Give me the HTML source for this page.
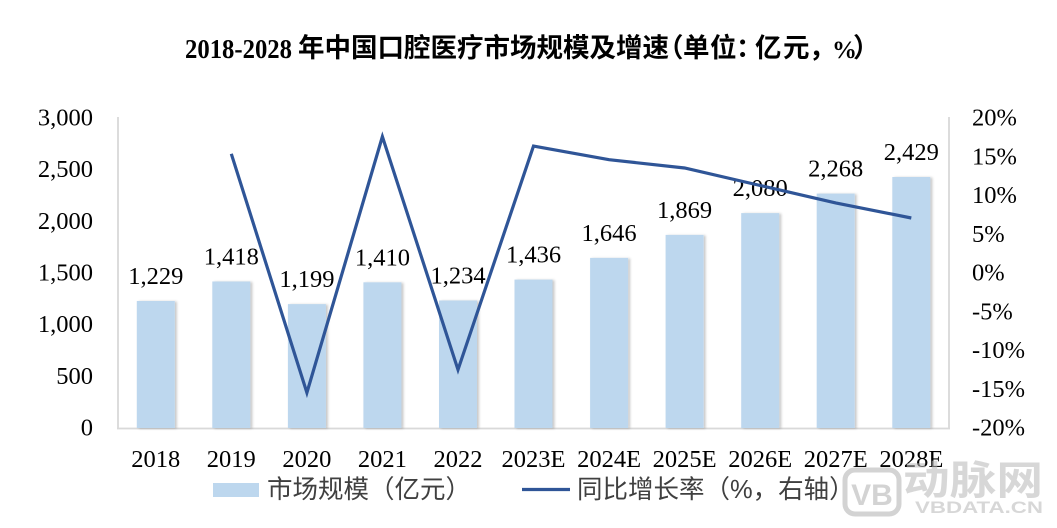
<!DOCTYPE html>
<html>
<head>
<meta charset="utf-8">
<style>
html,body{margin:0;padding:0;background:#fff;}
svg{display:block;}
.t{font-family:"Liberation Serif","Noto Serif CJK SC",serif;font-size:24.5px;fill:#000;}
.ttl{font-family:"Liberation Sans","Noto Sans CJK SC",sans-serif;font-size:26.5px;font-weight:bold;fill:#000;}
.lg{font-family:"Liberation Sans","Noto Sans CJK SC",sans-serif;font-size:25.5px;fill:#404040;}
</style>
</head>
<body>
<svg width="1057" height="528" viewBox="0 0 1057 528" xmlns="http://www.w3.org/2000/svg">
<defs>
<filter id="sh" x="-20%" y="-5%" width="150%" height="110%">
<feDropShadow dx="2" dy="0.5" stdDeviation="1.3" flood-color="#000" flood-opacity="0.22"/>
</filter>
</defs>
<rect width="1057" height="528" fill="#fff"/>

<!-- Title -->
<text x="185" y="58" style="font-family:'Liberation Serif',serif;font-size:27px;font-weight:bold;" textLength="107" lengthAdjust="spacingAndGlyphs">2018-2028</text>
<text class="ttl" x="298" y="57" textLength="371" lengthAdjust="spacing">年中国口腔医疗市场规模及增速</text>
<text class="ttl" x="657" y="57">（</text>
<text class="ttl" x="683" y="57">单</text>
<text class="ttl" x="710" y="57">位</text>
<text class="ttl" x="736" y="57">：</text>
<text class="ttl" x="755" y="57">亿</text>
<text class="ttl" x="783" y="57">元</text>
<text class="ttl" x="809" y="57">，</text>
<text x="832" y="58" style="font-family:'Liberation Serif',serif;font-size:25px;font-weight:bold;">%</text>
<text class="ttl" x="853" y="57">）</text>

<!-- Axes -->
<line x1="118" y1="117" x2="118" y2="428.5" stroke="#D9D9D9" stroke-width="1.8"/>
<line x1="949" y1="117" x2="949" y2="428.5" stroke="#D9D9D9" stroke-width="1.8"/>
<line x1="117" y1="428.5" x2="950" y2="428.5" stroke="#D9D9D9" stroke-width="1.8"/>

<!-- Left ticks -->
<g class="t" text-anchor="end">
<text x="93" y="125.5">3,000</text>
<text x="93" y="177.2">2,500</text>
<text x="93" y="228.8">2,000</text>
<text x="93" y="280.5">1,500</text>
<text x="93" y="332.2">1,000</text>
<text x="93" y="383.8">500</text>
<text x="93" y="435.5">0</text>
</g>
<!-- Right ticks -->
<g class="t">
<text x="972" y="125.5">20%</text>
<text x="972" y="164.3">15%</text>
<text x="972" y="203">10%</text>
<text x="972" y="241.8">5%</text>
<text x="972" y="280.5">0%</text>
<text x="972" y="319.3">-5%</text>
<text x="972" y="358">-10%</text>
<text x="972" y="396.8">-15%</text>
<text x="972" y="435.5">-20%</text>
</g>

<!-- Bars -->
<g fill="#BDD7EE" filter="url(#sh)">
<rect x="136.8" y="301.0" width="38" height="127.0"/>
<rect x="212.3" y="281.5" width="38" height="146.5"/>
<rect x="287.9" y="304.1" width="38" height="123.9"/>
<rect x="363.4" y="282.3" width="38" height="145.7"/>
<rect x="439.0" y="300.5" width="38" height="127.5"/>
<rect x="514.5" y="279.6" width="38" height="148.4"/>
<rect x="590.1" y="257.9" width="38" height="170.1"/>
<rect x="665.6" y="234.9" width="38" height="193.1"/>
<rect x="741.2" y="213.1" width="38" height="214.9"/>
<rect x="816.7" y="193.6" width="38" height="234.4"/>
<rect x="892.3" y="177.0" width="38" height="251.0"/>
</g>

<!-- Data labels -->
<g class="t" text-anchor="middle">
<text x="155.8" y="284">1,229</text>
<text x="231.3" y="264.5">1,418</text>
<text x="306.9" y="287">1,199</text>
<text x="382.4" y="265.3">1,410</text>
<text x="458.0" y="283.5">1,234</text>
<text x="533.5" y="262.6">1,436</text>
<text x="609.1" y="240.9">1,646</text>
<text x="684.6" y="217.9">1,869</text>
<text x="760.2" y="196.1">2,080</text>
<text x="835.7" y="176.6">2,268</text>
<text x="911.3" y="160">2,429</text>
</g>

<!-- Growth line -->
<polyline fill="none" stroke="#2F5597" stroke-width="3.2" stroke-linejoin="miter" stroke-miterlimit="10"
points="231.3,153.8 306.9,392.7 382.4,136.6 458.0,369.7 533.5,146.1 609.1,159.7 684.6,168.0 760.2,185.5 835.7,202.9 911.3,218.0"/>

<!-- X labels -->
<g class="t" text-anchor="middle">
<text x="155.8" y="467">2018</text>
<text x="231.3" y="467">2019</text>
<text x="306.9" y="467">2020</text>
<text x="382.4" y="467">2021</text>
<text x="458.0" y="467">2022</text>
<text x="533.5" y="467">2023E</text>
<text x="609.1" y="467">2024E</text>
<text x="684.6" y="467">2025E</text>
<text x="760.2" y="467">2026E</text>
<text x="835.7" y="467">2027E</text>
<text x="911.3" y="467">2028E</text>
</g>

<!-- Legend -->
<rect x="213" y="483" width="46" height="14" fill="#BDD7EE"/>
<text class="lg" x="267" y="498">市场规模（亿元）</text>
<line x1="522" y1="489.5" x2="570" y2="489.5" stroke="#2F5597" stroke-width="3.2"/>
<text class="lg" x="577" y="498">同比增长率（%，右轴）</text>

<!-- Watermark -->
<g opacity="0.55">
<rect x="845" y="470" width="54" height="44" rx="10" ry="10" fill="none" stroke="#B0B0B0" stroke-width="5"/>
<text x="872" y="505" text-anchor="middle" style="font-family:'Liberation Sans',sans-serif;font-size:30px;font-weight:bold;fill:#B0B0B0;">VB</text>
<text x="903" y="494" style="font-family:'Liberation Sans','Noto Sans CJK SC',sans-serif;font-size:40px;font-weight:bold;fill:#B8B8B8;" textLength="140" lengthAdjust="spacingAndGlyphs">动脉网</text>
<text x="915" y="513" style="font-family:'Liberation Sans',sans-serif;font-size:17px;font-weight:bold;fill:#B8B8B8;" textLength="128" lengthAdjust="spacingAndGlyphs">VBDATA.CN</text>
</g>
</svg>
</body>
</html>
